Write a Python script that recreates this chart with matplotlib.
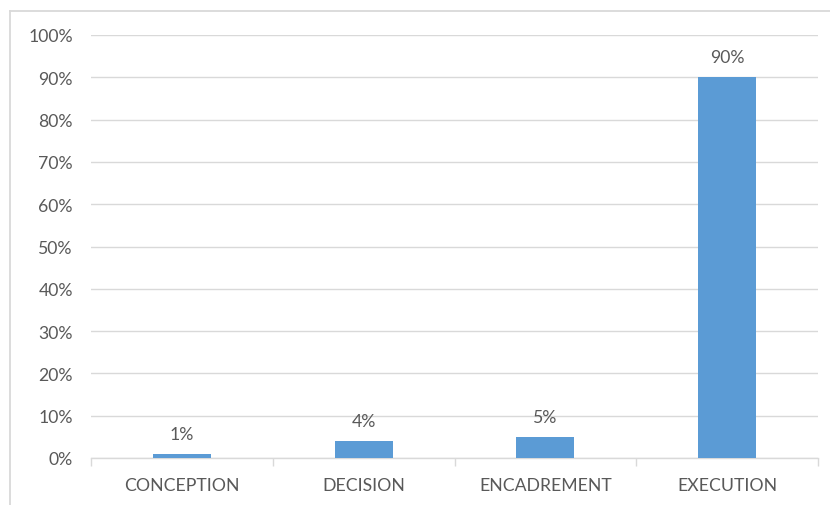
import matplotlib
matplotlib.use("Agg")
import matplotlib.pyplot as plt
from matplotlib.lines import Line2D
from matplotlib.ticker import FuncFormatter, FixedLocator

categories = ["CONCEPTION", "DECISION", "ENCADREMENT", "EXECUTION"]
values = [1, 4, 5, 90]
y_ticks = [0, 10, 20, 30, 40, 50, 60, 70, 80, 90, 100]

bar_color = "#5B9BD5"
text_color = "#595959"
grid_color = "#D9D9D9"

plt.rcParams["font.family"] = ["Lato", "DejaVu Sans"]

W, H = 830, 506
fig = plt.figure(figsize=(W / 100, H / 100), dpi=100)

# chart area frame (top and left edges)
fig.lines.append(Line2D([10 / W, 1], [1 - 11.5 / H, 1 - 11.5 / H],
                        transform=fig.transFigure, color=grid_color, linewidth=1.3))
fig.lines.append(Line2D([10 / W, 10 / W], [0, 1 - 11.5 / H],
                        transform=fig.transFigure, color=grid_color, linewidth=1.3))

ax = fig.add_axes([91 / W, (H - 459) / H, (818 - 91) / W, (459 - 36) / H])

x = list(range(len(categories)))
ax.bar(x, values, width=0.32, color=bar_color, zorder=3)

for xi, v in zip(x, values):
    ax.annotate(f"{v:.0f}%", (xi, v), xytext=(0, 8.5), textcoords="offset points",
                ha="center", va="bottom", fontsize=12.7, color=text_color)

ax.set_xlim(-0.5, len(categories) - 0.5)
ax.set_ylim(0, 100)
ax.set_yticks(y_ticks)
ax.yaxis.set_major_formatter(FuncFormatter(lambda v, p: f"{v:.0f}%"))
ax.grid(axis="y", color=grid_color, linewidth=1, zorder=0)

ax.set_xticks(x)
ax.set_xticklabels(categories)
ax.xaxis.set_minor_locator(FixedLocator([i - 0.5 for i in range(len(categories) + 1)]))
ax.tick_params(axis="x", which="major", length=0, pad=14, labelsize=12.7, labelcolor=text_color)
ax.tick_params(axis="x", which="minor", length=6, color=grid_color, width=1)
ax.tick_params(axis="y", length=0, pad=13, labelsize=12.7, labelcolor=text_color)

for side in ["top", "right", "left"]:
    ax.spines[side].set_visible(False)
ax.spines["bottom"].set_color(grid_color)
ax.spines["bottom"].set_linewidth(1)

fig.savefig("out.png", dpi=100)
